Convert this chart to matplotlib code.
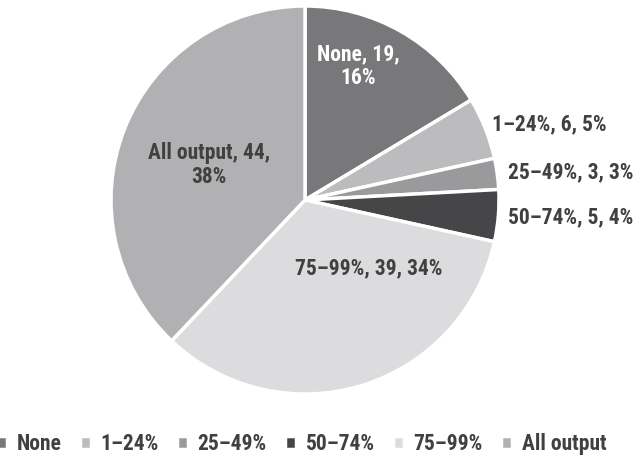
import matplotlib.pyplot as plt

plt.rcParams['font.family'] = ['Roboto Condensed', 'Roboto', 'DejaVu Sans']
plt.rcParams['font.weight'] = 'bold'

categories = ['None', '1–24%', '25–49%', '50–74%', '75–99%', 'All output']
counts = [19, 6, 3, 5, 39, 44]
colors = ['#78787a', '#bcbcbe', '#9a9a9c', '#464648', '#dcdcde', '#b1b1b3']

total = sum(counts)

fig = plt.figure(figsize=(6.41, 4.62), dpi=100)
# pie centred at about (305, 200) px, radius ~194 px
R = 194
ax = fig.add_axes([(305 - R) / 641, (462 - 200 - R) / 462, 2 * R / 641, 2 * R / 462])

wedges, _ = ax.pie(counts, colors=colors, startangle=90, counterclock=False,
                   radius=1.0, wedgeprops=dict(edgecolor='white', linewidth=2.5))
ax.set_xlim(-1, 1)
ax.set_ylim(-1, 1)
ax.set_aspect('equal')

# label positions (data coords), alignment and colour per slice
label_pos = [(0.273, 0.69), (0.964, 0.39), (1.046, 0.145), (1.046, -0.09), (0.33, -0.35), (-0.495, 0.18)]
label_ha = ['center', 'left', 'left', 'left', 'center', 'center']
label_col = ['white', '#404040', '#404040', '#404040', '#404040', '#404040']
label_break = [True, False, False, False, False, True]

for i, cat in enumerate(categories):
    pct = round(100 * counts[i] / total)
    if label_break[i]:
        txt = f'{cat}, {counts[i]},\n{pct}%'
    else:
        txt = f'{cat}, {counts[i]}, {pct}%'
    ax.text(label_pos[i][0], label_pos[i][1], txt, ha=label_ha[i], va='center',
            color=label_col[i], fontsize=15.5, fontweight='bold', linespacing=1.1,
            clip_on=False)

fig.legend(wedges, categories, loc='lower center', bbox_to_anchor=(0.47, -0.027),
           ncol=6, frameon=False, fontsize=15.5, handlelength=0.5, handleheight=0.5,
           handletextpad=0.45, columnspacing=0.85, labelcolor='#404040')

fig.savefig('out.png', dpi=100)
